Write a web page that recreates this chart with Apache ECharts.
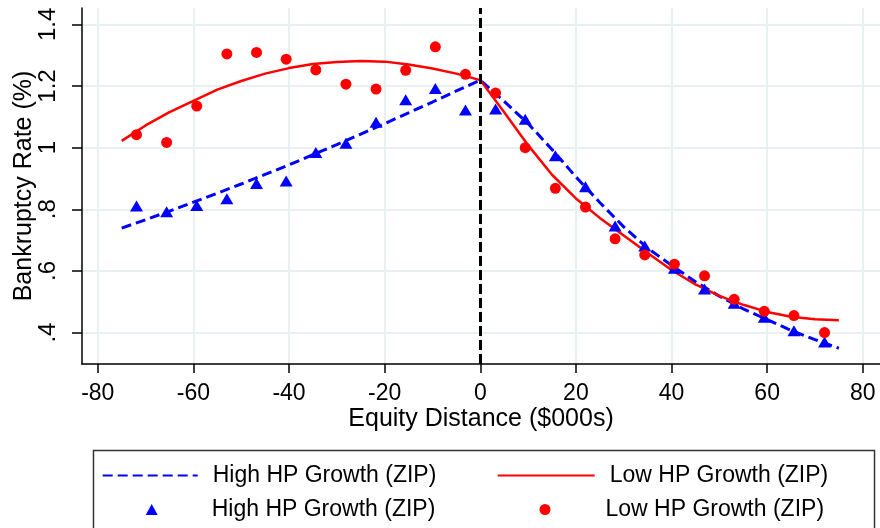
<!DOCTYPE html>
<html lang="en">
<head>
    <meta charset="utf-8">
    <title>Bankruptcy Rate by Equity Distance</title>
    <script type="text/javascript" src="https://cdn.jsdelivr.net/npm/echarts@6/dist/echarts.min.js"></script>
    <style>
        html, body { margin: 0; padding: 0; background: #fff; }
        #chart { width: 880px; height: 528px; }
    </style>
</head>
<body>
<div id="chart"></div>
<script type="text/javascript">
    // bin centres (same for both groups)
    var binX = [-71.9, -65.6, -59.3, -53.0, -46.8, -40.6, -34.4, -28.1, -21.8, -15.6, -9.4, -3.1,
        3.2, 9.4, 15.7, 22.0, 28.2, 34.4, 40.6, 46.9, 53.1, 59.4, 65.6, 72.0];
    // binned means
    var highBins = [0.811, 0.792, 0.812, 0.834, 0.884, 0.892, 0.984, 1.014, 1.082, 1.155, 1.192, 1.122,
        1.125, 1.092, 0.974, 0.873, 0.746, 0.681, 0.609, 0.541, 0.495, 0.450, 0.406, 0.369];
    var lowBins = [1.042, 1.017, 1.135, 1.304, 1.309, 1.287, 1.252, 1.206, 1.190, 1.251, 1.327, 1.238,
        1.177, 1.000, 0.868, 0.807, 0.704, 0.652, 0.622, 0.584, 0.508, 0.469, 0.455, 0.400];
    // fitted curves, read every 5 units
    var fitX = [-75, -70, -65, -60, -55, -50, -45, -40, -35, -30, -25, -20, -15, -10, -5, 0,
        5, 10, 15, 20, 25, 30, 35, 40, 45, 50, 55, 60, 65, 70, 75];
    var highFit = [0.739, 0.766, 0.794, 0.823, 0.852, 0.882, 0.913, 0.944, 0.977, 1.010, 1.044, 1.078, 1.113, 1.148, 1.184, 1.219,
        1.150, 1.078, 0.994, 0.905, 0.822, 0.743, 0.674, 0.618, 0.565, 0.518, 0.477, 0.442, 0.407, 0.377, 0.349];
    var lowFit = [1.022, 1.072, 1.115, 1.152, 1.188, 1.216, 1.240, 1.258, 1.271, 1.278, 1.281, 1.279, 1.270, 1.257, 1.240, 1.219,
        1.115, 1.008, 0.912, 0.835, 0.772, 0.715, 0.658, 0.603, 0.556, 0.519, 0.490, 0.467, 0.451, 0.443, 0.440];
    var cutoff = 0;

    var labels = {
        highFit: 'High HP Growth (ZIP)',
        lowFit: 'Low HP Growth (ZIP)',
        highBin: 'High HP Growth (ZIP)',
        lowBin: 'Low HP Growth (ZIP)'
    };

    function pairs(xs, ys) {
        var out = [];
        for (var i = 0; i < xs.length; i++) {
            out.push([xs[i], ys[i]]);
        }
        return out;
    }

    var FONT = "'Liberation Sans', Arial, sans-serif";
    var gridColor = '#e8f0f2';

    // one legend block per entry so the 2x2 layout matches
    function legendAt(name, left, top, w, h, gap, hideSymbol) {
        var lg = {
            data: [name],
            left: left,
            top: top,
            orient: 'horizontal',
            selectedMode: false,
            itemWidth: w,
            itemHeight: h,
            padding: 0,
            symbolKeepAspect: true,
            formatter: function (n) { return labels[n]; },
            textStyle: { fontFamily: FONT, fontSize: 23, color: '#000', padding: [0, 0, 0, gap] }
        };
        if (hideSymbol) {
            lg.itemStyle = { opacity: 0 };
        }
        return lg;
    }

    var chart = echarts.init(document.getElementById('chart'), null, { renderer: 'canvas' });
    var option = {
        animation: false,
        backgroundColor: '#fff',
        grid: { left: 82, right: 0, top: 8, bottom: 164, containLabel: false, outerBoundsMode: 'none' },
        xAxis: {
            type: 'value',
            min: -83.3,
            max: 83.6,
            splitNumber: 8,
            minInterval: 20,
            maxInterval: 20,
            name: 'Equity Distance ($000s)',
            nameLocation: 'middle',
            nameGap: 43,
            nameMoveOverlap: false,
            nameTextStyle: { fontFamily: FONT, fontSize: 25, color: '#000' },
            axisLine: { onZero: false, lineStyle: { color: '#000', width: 1.5 } },
            axisTick: { length: 9, lineStyle: { color: '#000', width: 1.5 } },
            axisLabel: { fontFamily: FONT, fontSize: 23, color: '#000', margin: 18, showMinLabel: false, showMaxLabel: false },
            splitLine: { show: true, showMinLine: false, showMaxLine: false, lineStyle: { color: gridColor, width: 2 } }
        },
        yAxis: {
            type: 'value',
            min: 0.298,
            max: 1.453,
            splitNumber: 5,
            minInterval: 0.2,
            maxInterval: 0.2,
            name: 'Bankruptcy Rate (%)',
            nameLocation: 'middle',
            nameGap: 45,
            nameMoveOverlap: false,
            nameTextStyle: { fontFamily: FONT, fontSize: 25, color: '#000' },
            axisLine: { show: true, onZero: false, lineStyle: { color: '#000', width: 1.5 } },
            axisTick: { show: true, length: 10, lineStyle: { color: '#000', width: 1.5 } },
            axisLabel: {
                fontFamily: FONT, fontSize: 24, color: '#000', rotate: 90, margin: 22,
                showMinLabel: false, showMaxLabel: false,
                formatter: function (v) {
                    var s = String(Math.round(v * 10) / 10);
                    return s.charAt(0) === '0' ? s.slice(1) : s;
                }
            },
            splitLine: { show: true, showMinLine: false, showMaxLine: false, lineStyle: { color: gridColor, width: 2 } }
        },
        legend: [
            legendAt('highFit', 101.7, 464, 95, 12, 10, true),
            legendAt('lowFit', 496.7, 464, 97, 12, 10, true),
            legendAt('highBin', 145.7, 498, 12, 11, 49, false),
            legendAt('lowBin', 539.5, 498, 11, 11, 50, false)
        ],
        graphic: [{
            type: 'rect',
            left: 91,
            top: 448,
            shape: { width: 781, height: 100 },
            style: { fill: 'none', stroke: '#333', lineWidth: 1.5 },
            silent: true
        }],
        series: [
            {
                name: 'highFit',
                type: 'line',
                data: pairs(fitX, highFit),
                symbol: 'none',
                color: '#0000ff',
                lineStyle: { color: '#0000ff', width: 3, type: [10, 5] },
                z: 3,
                markLine: {
                    silent: true,
                    symbol: 'none',
                    label: { show: false },
                    lineStyle: { color: '#000', width: 3, type: [10, 4] },
                    data: [{ xAxis: cutoff }]
                }
            },
            {
                name: 'lowFit',
                type: 'line',
                data: pairs(fitX, lowFit),
                symbol: 'none',
                color: '#ff0000',
                lineStyle: { color: '#ff0000', width: 2.5 },
                z: 3
            },
            {
                name: 'highBin',
                type: 'scatter',
                data: pairs(binX, highBins),
                symbol: 'triangle',
                symbolSize: [13, 11],
                symbolKeepAspect: true,
                itemStyle: { color: '#0000ff', opacity: 1 },
                z: 4
            },
            {
                name: 'lowBin',
                type: 'scatter',
                data: pairs(binX, lowBins),
                symbol: 'circle',
                symbolSize: 11,
                itemStyle: { color: '#ff0000', opacity: 1 },
                z: 4
            }
        ]
    };
    chart.setOption(option);
</script>
</body>
</html>
